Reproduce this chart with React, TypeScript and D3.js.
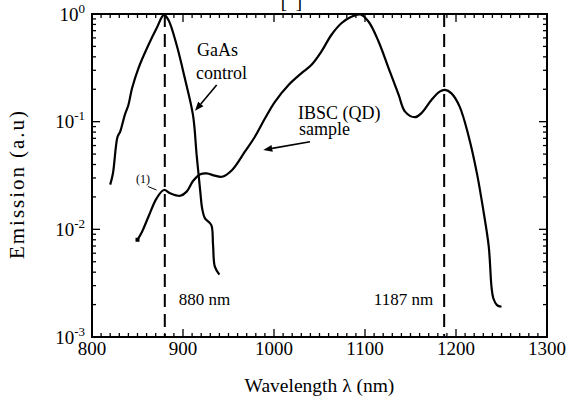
import React from "react";
import * as d3 from "d3";

const gaasWl = [820, 823, 828, 831, 836, 840, 844, 851, 862, 871, 879, 884, 893, 902, 911, 915, 919, 921, 924, 931, 933, 935, 940];
const gaasEm = [0.026, 0.033, 0.072, 0.081, 0.115, 0.143, 0.204, 0.313, 0.515, 0.736, 0.98, 0.88, 0.515, 0.253, 0.115, 0.049, 0.0224, 0.0157, 0.0127, 0.011, 0.0072, 0.0045, 0.0038];

const ibscWl = [850, 855, 862, 871, 879, 886, 897, 904, 911, 919, 926, 935, 943, 954, 968, 979, 990, 1001, 1016, 1030, 1041, 1052, 1063, 1074, 1085, 1095, 1104, 1115, 1126, 1137, 1144, 1155, 1162, 1173, 1182, 1188, 1195, 1204, 1214, 1223, 1230, 1236, 1239, 1241, 1245, 1250];
const ibscEm = [0.008, 0.0095, 0.0131, 0.0194, 0.0232, 0.0216, 0.0205, 0.0224, 0.0281, 0.0325, 0.0331, 0.0315, 0.0308, 0.0356, 0.0526, 0.0725, 0.107, 0.153, 0.219, 0.281, 0.336, 0.447, 0.638, 0.82, 0.944, 0.99, 0.848, 0.553, 0.313, 0.177, 0.124, 0.11, 0.12, 0.159, 0.19, 0.197, 0.183, 0.138, 0.0725, 0.0331, 0.0151, 0.0069, 0.00293, 0.00229, 0.00198, 0.00191];

const xTicks = [800, 900, 1000, 1100, 1200, 1300];
const yDecades = [-3, -2, -1, 0];
const markerWl = [880, 1187];
const markerLabels = ["880 nm", "1187 nm"];

const W = 569, H = 403;
const L = 92, R = 547, T = 14, B = 337;
const FONT = '"Liberation Serif"';

export default function App() {
  const x = d3.scaleLinear().domain([800, 1300]).range([L, R]);
  const y = d3.scaleLog().domain([1e-3, 1]).range([B, T]);

  const line = d3
    .line<[number, number]>()
    .x((d) => x(d[0]))
    .y((d) => y(d[1]))
    .curve(d3.curveCatmullRom.alpha(0.5));

  const gaas = gaasWl.map((w, i) => [w, gaasEm[i]] as [number, number]);
  const ibsc = ibscWl.map((w, i) => [w, ibscEm[i]] as [number, number]);

  const xMinor = d3.range(800, 1301, 10);
  const yMinor: number[] = [];
  for (let d = -3; d < 0; d++) for (let k = 2; k <= 9; k++) yMinor.push(k * Math.pow(10, d));

  const arrow = (x1: number, y1: number, x2: number, y2: number, key: string) => {
    const ang = Math.atan2(y2 - y1, x2 - x1);
    const len = 9, hw = 3.5;
    const bx = x2 - len * Math.cos(ang), by = y2 - len * Math.sin(ang);
    const p1 = [bx + hw * Math.sin(ang), by - hw * Math.cos(ang)];
    const p2 = [bx - hw * Math.sin(ang), by + hw * Math.cos(ang)];
    return (
      <g key={key}>
        <line x1={x1} y1={y1} x2={bx} y2={by} stroke="#000" strokeWidth={1.6} />
        <polygon points={`${x2},${y2} ${p1[0]},${p1[1]} ${p2[0]},${p2[1]}`} fill="#000" />
      </g>
    );
  };

  const ts = { fontFamily: FONT } as React.CSSProperties;

  return (
    <svg width={W} height={H} style={{ position: "absolute", left: 0, top: 0, background: "#fff" }}>
      <rect x={0} y={0} width={W} height={H} fill="#fff" />
      <text x={284} y={7.5} fontSize={19} textAnchor="middle" style={ts}>[</text>
      <text x={299} y={7.5} fontSize={19} textAnchor="middle" style={ts}>]</text>

      {xMinor.map((v) => {
        const major = v % 100 === 0;
        const l = major ? 8 : 4;
        return (
          <g key={"xt" + v}>
            <line x1={x(v)} x2={x(v)} y1={B} y2={B - l} stroke="#000" strokeWidth={1.3} />
            <line x1={x(v)} x2={x(v)} y1={T} y2={T + l} stroke="#000" strokeWidth={1.3} />
          </g>
        );
      })}
      {yMinor.map((v, i) => (
        <g key={"ym" + i}>
          <line x1={L} x2={L + 4} y1={y(v)} y2={y(v)} stroke="#000" strokeWidth={1.3} />
          <line x1={R} x2={R - 4} y1={y(v)} y2={y(v)} stroke="#000" strokeWidth={1.3} />
        </g>
      ))}
      {yDecades.map((d) => (
        <g key={"yd" + d}>
          <line x1={L} x2={L + 8} y1={y(Math.pow(10, d))} y2={y(Math.pow(10, d))} stroke="#000" strokeWidth={1.3} />
          <line x1={R} x2={R - 8} y1={y(Math.pow(10, d))} y2={y(Math.pow(10, d))} stroke="#000" strokeWidth={1.3} />
          <text x={85} y={y(Math.pow(10, d)) + 6.5} fontSize={19} textAnchor="end" style={ts}>
            <tspan>10</tspan>
            <tspan dy={-8} fontSize={13}>{String(d)}</tspan>
          </text>
        </g>
      ))}
      {xTicks.map((v) => (
        <text key={"xl" + v} x={x(v)} y={B + 18} fontSize={19} textAnchor="middle" style={ts}>
          {v}
        </text>
      ))}

      <rect x={L} y={T} width={R - L} height={B - T} fill="none" stroke="#000" strokeWidth={2} />

      {markerWl.map((w) => (
        <line key={"m" + w} x1={x(w)} x2={x(w)} y1={T} y2={B} stroke="#000" strokeWidth={2} strokeDasharray="13,7" />
      ))}
      <text x={x(markerWl[0]) + 14} y={305} fontSize={17} style={ts}>{markerLabels[0]}</text>
      <text x={x(markerWl[1]) - 11} y={305} fontSize={17} textAnchor="end" style={ts}>{markerLabels[1]}</text>

      <path d={line(gaas) || ""} fill="none" stroke="#000" strokeWidth={2.2} strokeLinejoin="round" />
      <path d={line(ibsc) || ""} fill="none" stroke="#000" strokeWidth={2.2} strokeLinejoin="round" />
      <rect x={x(ibscWl[0]) - 2} y={y(ibscEm[0]) - 2} width={4} height={4} fill="#000" />

      <text x={197} y={56} fontSize={18} style={ts}>GaAs</text>
      <text x={196} y={79} fontSize={18} style={ts}>control</text>
      {arrow(x(937), y(0.219), x(913.2), y(0.126), "a1")}
      <text x={298} y={119} fontSize={18} style={ts}>IBSC (QD)</text>
      <text x={299} y={135} fontSize={18} style={ts}>sample</text>
      {arrow(x(1039.6), y(0.0652), x(988.2), y(0.0546), "a2")}
      <text x={136} y={183} fontSize={12} style={ts}>(1)</text>
      <line x1={148} y1={186.5} x2={156.5} y2={190} stroke="#000" strokeWidth={1} />

      <text x={(L + R) / 2} y={392} fontSize={19.5} textAnchor="middle" style={ts}>Wavelength λ (nm)</text>
      <text transform={`translate(24, 185) rotate(-90)`} fontSize={21} textAnchor="middle" textLength={148} lengthAdjust="spacing" style={ts}>Emission (a.u)</text>
    </svg>
  );
}
